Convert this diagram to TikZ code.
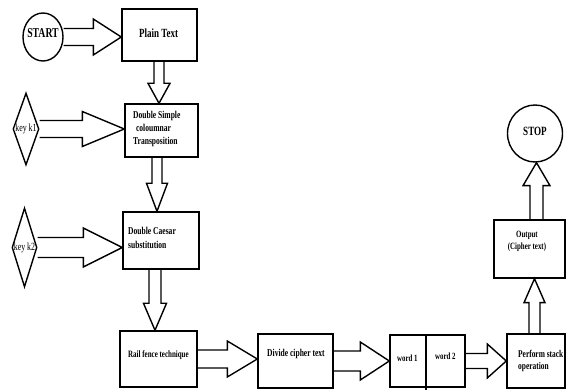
\documentclass[tikz,border=0pt]{standalone}
\usepackage{fontspec}
\setmainfont{Liberation Serif}
\usepackage{graphicx}
\usetikzlibrary{calc,shapes.geometric}
\newcommand\sqbox[4]{\scalebox{0.72}[1]{\fontsize{#1}{#2}\selectfont\begin{tabular}{@{}#3@{}}#4\end{tabular}}}
% horizontal block arrow: src, dst, shaft half, head half, head length
\newcommand\harr[5]{%
  \draw[blk] ($(#1.east)+(0,#3)$) -- ($(#2.west|-#1.east)+(-#5,#3)$) -- ($(#2.west|-#1.east)+(-#5,#4)$)
    -- (#2.west|-#1.east) -- ($(#2.west|-#1.east)+(-#5,-#4)$) -- ($(#2.west|-#1.east)+(-#5,-#3)$) -- ($(#1.east)+(0,-#3)$);}
% vertical block arrow: src point, dst point, dx, shaft half, head half, signed head length
\newcommand\varr[6]{%
  \coordinate (vs) at ($(#1)+(#3,0)$);
  \coordinate (ve) at (vs |- #2);
  \draw[blk] ($(vs)+(-#4,0)$) -- ($(ve)+(-#4,#6)$) -- ($(ve)+(-#5,#6)$) -- (ve)
    -- ($(ve)+(#5,#6)$) -- ($(ve)+(#4,#6)$) -- ($(vs)+(#4,0)$);}
\tikzset{
  ln/.style={line width=1.4pt, black},
  blk/.style={line width=1.4pt, black, line join=miter},
  box/.style={draw, ln, rectangle, inner sep=0pt},
  circ/.style={draw, ln, ellipse, inner sep=0pt},
  dia/.style={draw, ln, diamond, inner sep=0pt},
  txt/.style={inner sep=0pt, font=\bfseries},
  rtxt/.style={inner sep=0pt},
}
\begin{document}
\begin{tikzpicture}[x=1pt,y=1pt]
\useasboundingbox (0,0) rectangle (566,-390);
% shapes
\node[circ, minimum width=40pt, minimum height=48pt] (start) at (43,-37) {};
\node[box, minimum width=75pt, minimum height=52pt] (plain) at (159.5,-35) {};
\node[box, minimum width=73pt, minimum height=53pt] (ds) at (161.5,-130.5) {};
\node[box, minimum width=76pt, minimum height=57pt] (dc) at (161,-240.5) {};
\node[box, minimum width=77pt, minimum height=56pt] (rail) at (158.5,-359) {};
\node[box, minimum width=75pt, minimum height=54pt] (divide) at (295.5,-361) {};
\node[box, minimum width=75pt, minimum height=52pt] (word) at (427.5,-361) {};
\node[box, minimum width=58pt, minimum height=54pt] (perform) at (536,-361) {};
\node[box, minimum width=71pt, minimum height=58pt] (output) at (529.5,-249) {};
\node[circ, minimum width=55pt, minimum height=57pt] (stop) at (535,-133.5) {};
\node[dia, minimum width=26pt, minimum height=72pt] (k1) at (26,-129) {};
\node[dia, minimum width=25pt, minimum height=79pt] (k2) at (24.5,-247.5) {};
\draw[ln] ($(word.north)+(-1.5,0)$) -- ($(word.south)+(-1.5,-3)$);
% texts
\node[txt] (tstart) at (43,-34) {\sqbox{13.5}{16}{c}{START}};
\node[txt, anchor=west] (tplain) at (139,-35) {\sqbox{12.5}{15}{l}{Plain Text}};
\node[txt, anchor=west] (tds) at (133,-129) {\sqbox{10.5}{13}{l}{Double Simple\\\hspace{4pt}coloumnar\\Transposition}};
\node[txt, anchor=west] (tdc) at (128,-239) {\sqbox{10.5}{14}{l}{Double Caesar\\substitution}};
\node[txt, anchor=west] (trail) at (128,-355) {\sqbox{9.7}{12}{l}{Rail fence technique}};
\node[txt, anchor=west] (tdiv) at (267,-354) {\sqbox{10.5}{12}{l}{Divide cipher text}};
\node[txt, anchor=west] (tw1) at (397,-359) {\sqbox{9.5}{12}{l}{word 1}};
\node[txt, anchor=west] (tw2) at (435,-357) {\sqbox{9.5}{12}{l}{word 2}};
\node[txt, anchor=west] (tperf) at (518,-361) {\sqbox{10.3}{12}{l}{Perform stack\\operation}};
\node[txt] (tout) at (527,-241) {\sqbox{9.6}{12}{c}{Output\\(Cipher text)}};
\node[txt] (tstop) at (535,-133) {\sqbox{12.6}{15}{c}{STOP}};
\node[rtxt] (tk1) at (26,-129) {\sqbox{11}{13}{c}{key k1}};
\node[rtxt] (tk2) at (24.5,-248) {\sqbox{11}{13}{c}{key k2}};
% connectors
\harr{start}{plain}{8.5}{18}{28}
\harr{k1}{ds}{8.5}{17.5}{42}
\harr{k2}{dc}{10}{19.5}{39}
\harr{rail}{divide}{9}{18}{30}
\harr{divide}{word}{10}{19}{29}
\harr{word}{perform}{7.5}{17}{19}
\varr{plain.south}{ds.north}{-0.5}{5}{11}{20}
\varr{ds.south}{dc.north}{-4.5}{5}{10.5}{28}
\varr{dc.south}{rail.north}{-6}{6}{11.5}{27}
\varr{perform.north}{output.south}{-1.5}{5.5}{10.5}{-24}
\varr{output.north}{stop.south}{7}{6.5}{13.5}{-23}
\end{tikzpicture}
\end{document}
